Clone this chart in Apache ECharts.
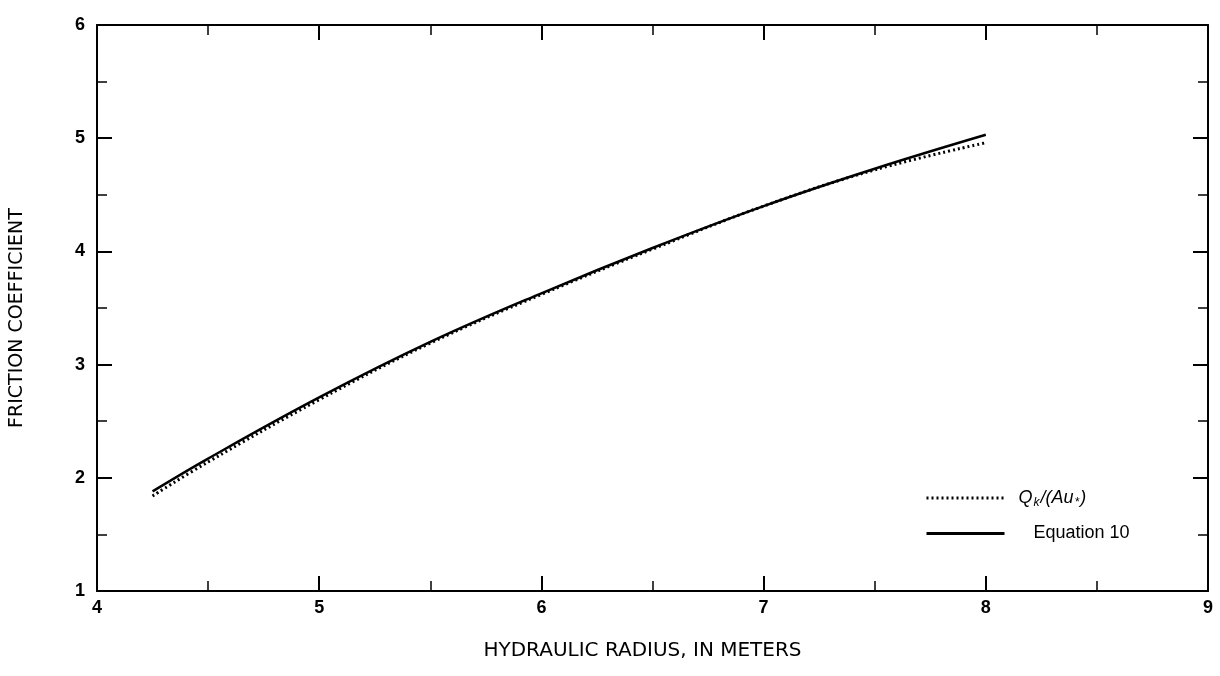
<!DOCTYPE html>
<html>
<head>
<meta charset="utf-8">
<script src="https://cdn.jsdelivr.net/npm/echarts@6/dist/echarts.min.js"></script>
<style>
  html, body { margin: 0; padding: 0; background: #fff; }
  #box { width: 1220px; height: 676px; }
</style>
</head>
<body>
<div id="box"></div>
<script>
// hydraulic radius, in meters
const radius = [4.25, 4.5, 5.0, 5.5, 6.0, 6.5, 7.0, 7.5, 8.0]
// friction coefficient, Qk/(Au*)
const measured = [1.84, 2.14, 2.69, 3.19, 3.62, 4.02, 4.40, 4.72, 4.96]
// friction coefficient, equation 10
const equation10 = [1.88, 2.17, 2.71, 3.20, 3.63, 4.03, 4.40, 4.73, 5.03]

const xTicks = [4, 5, 6, 7, 8, 9]
const yTicks = [1, 2, 3, 4, 5, 6]

const font = 'Liberation Sans, Arial, sans-serif'
const wideFont = 'DejaVu Sans, Liberation Sans, sans-serif'

function pairs (xs, ys) {
  return xs.map((x, i) => [x, ys[i]])
}

// frame on all four sides, ticks pointing inward
const frameAxis = {
  axisLine: { show: true, lineStyle: { color: '#000', width: 2 } },
  axisTick: { show: true, inside: true, length: 15, lineStyle: { color: '#000', width: 2 } },
  minorTick: { show: true, splitNumber: 2, length: 10, lineStyle: { color: '#000', width: 1.5 } },
  splitLine: { show: false }
}

const chart = echarts.init(document.getElementById('box'))
chart.setOption({
  animation: false,
  backgroundColor: '#fff',
  grid: { left: 96, right: 12, top: 25, bottom: 85 },
  legend: {
    orient: 'vertical',
    left: 920,
    top: 484,
    itemWidth: 78,
    itemHeight: 14,
    itemGap: 16,
    data: ['measured', 'equation10'],
    // hide the marker dot, keep only the line sample
    itemStyle: { color: 'rgba(0,0,0,0)', borderColor: 'rgba(0,0,0,0)', borderWidth: 0 },
    lineStyle: { width: 3 },
    formatter: function (name) {
      if (name === 'measured') return '{q|Q}{sub|k}{i|/(Au}{sub|*}{i|)}'
      return '{t|Equation 10}'
    },
    textStyle: {
      color: '#000',
      fontFamily: font,
      fontSize: 17,
      rich: {
        q: { fontStyle: 'italic', fontSize: 18, fontFamily: font, color: '#000', padding: [0, 0, 0, 9] },
        i: { fontStyle: 'italic', fontSize: 18, fontFamily: font, color: '#000' },
        sub: { fontStyle: 'italic', fontSize: 12, fontFamily: font, color: '#000', padding: [9, 1, 0, 1] },
        t: { fontSize: 18, fontFamily: font, color: '#000', padding: [0, 0, 0, 24] }
      }
    }
  },
  xAxis: [
    Object.assign({}, frameAxis, {
      type: 'value',
      min: 4,
      max: 9,
      interval: 1,
      name: 'HYDRAULIC RADIUS, IN METERS',
      nameLocation: 'middle',
      nameGap: 50,
      nameTextStyle: { color: '#000', fontFamily: wideFont, fontSize: 20, padding: [0, 20, 0, 0] },
      axisLabel: {
        color: '#000', fontFamily: font, fontSize: 18, fontWeight: 'bold', margin: 8,
        customValues: xTicks
      }
    }),
    Object.assign({}, frameAxis, {
      type: 'value', position: 'top', min: 4, max: 9, interval: 1,
      axisLabel: { show: false }
    })
  ],
  yAxis: [
    Object.assign({}, frameAxis, {
      type: 'value',
      min: 1,
      max: 6,
      interval: 1,
      name: 'FRICTION COEFFICIENT',
      nameLocation: 'middle',
      nameGap: 70,
      nameTextStyle: { color: '#000', fontFamily: wideFont, fontSize: 19, padding: [0, 20, 0, 0] },
      axisLabel: {
        color: '#000', fontFamily: font, fontSize: 18, fontWeight: 'bold', margin: 12,
        customValues: yTicks
      }
    }),
    Object.assign({}, frameAxis, {
      type: 'value', position: 'right', min: 1, max: 6, interval: 1,
      axisLabel: { show: false }
    })
  ],
  series: [
    {
      name: 'measured',
      type: 'line',
      symbol: 'none',
      smooth: 0.4,
      data: pairs(radius, measured),
      lineStyle: { color: '#000', width: 3, type: [2, 3] },
      itemStyle: { color: '#000' },
      z: 3
    },
    {
      name: 'equation10',
      type: 'line',
      symbol: 'none',
      smooth: 0.4,
      data: pairs(radius, equation10),
      lineStyle: { color: '#000', width: 2.5, type: 'solid' },
      itemStyle: { color: '#000' },
      z: 2
    }
  ]
})
</script>
</body>
</html>
